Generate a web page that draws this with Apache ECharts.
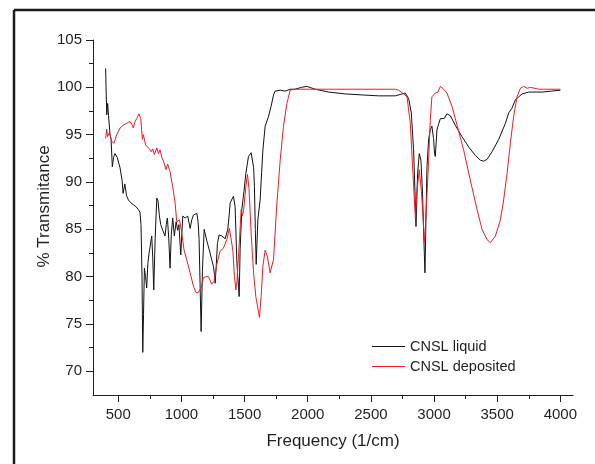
<!DOCTYPE html>
<html>
<head>
<meta charset="utf-8">
<script src="https://cdn.jsdelivr.net/npm/echarts@6/dist/echarts.min.js"></script>
<style>
html, body { margin: 0; padding: 0; background: #fff; }
#main { width: 595px; height: 464px; }
</style>
</head>
<body>
<div id="main"></div>
<script>
// IR spectra, [wavenumber, %T]
var liquid = [
    [400, 102.0], [404, 99.5], [409, 97.1], [416, 98.3], [423, 97.0], [435, 95.0], [443, 94.5], [453, 91.6],
    [463, 92.6], [474, 93.0], [492, 92.6], [514, 91.5], [530, 90.2], [538, 88.8], [552, 89.8], [565, 88.6],
    [580, 88.1], [600, 87.8], [619, 87.6], [640, 87.4], [659, 87.1], [672, 86.8], [680, 85.5], [688, 80.0],
    [694, 72.0], [700, 76.0], [707, 80.9], [716, 80.0], [725, 78.8], [735, 81.5], [744, 82.5], [752, 82.3],
    [765, 84.3], [773, 82.0], [781, 78.6], [792, 84.0], [805, 88.3], [815, 88.0], [825, 86.5], [836, 85.5],
    [852, 84.9], [870, 84.3], [880, 85.5], [889, 86.2], [900, 84.0], [910, 80.9], [920, 84.5], [931, 86.2],
    [944, 84.3], [958, 85.8], [970, 84.9], [980, 85.5], [995, 82.3], [1003, 84.5], [1011, 86.4], [1030, 86.2],
    [1050, 86.4], [1069, 85.1], [1082, 86.0], [1095, 86.5], [1110, 86.6], [1122, 86.7], [1132, 85.8], [1140, 83.9],
    [1148, 79.0], [1156, 74.2], [1166, 80.5], [1180, 85.0], [1201, 83.8], [1227, 82.5], [1253, 81.1], [1262, 80.2],
    [1267, 79.3], [1275, 81.0], [1285, 83.5], [1298, 84.4], [1320, 84.3], [1346, 84.0], [1367, 85.0], [1378, 86.5],
    [1386, 87.8], [1400, 88.0], [1412, 88.5], [1425, 87.4], [1432, 84.5], [1438, 81.8], [1446, 80.0], [1452, 79.0],
    [1457, 77.9], [1465, 83.0], [1478, 87.1], [1495, 89.0], [1510, 90.9], [1531, 92.7], [1552, 93.1], [1565, 92.9],
    [1572, 91.5], [1578, 89.5], [1585, 85.0], [1592, 81.3], [1598, 83.5], [1605, 86.0], [1623, 88.1], [1635, 91.0],
    [1645, 93.4], [1663, 95.9], [1689, 96.9], [1710, 98.0], [1729, 99.2], [1742, 99.6], [1782, 99.7], [1821, 99.6],
    [1861, 99.8], [1900, 99.8], [1950, 100.0], [1993, 100.1], [2059, 99.8], [2165, 99.5], [2300, 99.3], [2429, 99.2],
    [2560, 99.1], [2693, 99.1], [2746, 99.3], [2772, 99.4], [2799, 98.8], [2820, 97.3], [2838, 93.4], [2849, 89.0],
    [2857, 85.3], [2864, 88.5], [2870, 90.9], [2883, 93.0], [2896, 92.3], [2909, 88.8], [2918, 84.5], [2928, 80.4],
    [2936, 86.0], [2944, 91.6], [2957, 94.5], [2970, 95.5], [2983, 95.9], [2996, 94.6], [3004, 93.0], [3010, 92.7],
    [3016, 94.0], [3023, 95.5], [3036, 96.1], [3050, 96.7], [3063, 96.8], [3080, 96.7], [3102, 97.2], [3129, 97.0],
    [3168, 96.0], [3221, 94.8], [3274, 93.7], [3327, 92.8], [3367, 92.3], [3393, 92.2], [3420, 92.4], [3459, 93.2],
    [3512, 94.5], [3565, 96.2], [3591, 97.3], [3617, 97.8], [3644, 98.7], [3697, 99.3], [3750, 99.5], [3855, 99.5],
    [3930, 99.6], [4000, 99.7]
];

var deposited = [
    [400, 94.6], [408, 95.6], [415, 94.8], [430, 95.2], [448, 94.3], [466, 94.1], [488, 95.0], [514, 95.7],
    [540, 96.0], [567, 96.2], [593, 96.4], [612, 96.0], [619, 95.7], [630, 96.3], [646, 96.7], [664, 97.2],
    [678, 96.7], [691, 94.5], [698, 95.0], [705, 94.8], [717, 93.9], [730, 93.7], [746, 93.5], [760, 93.2],
    [773, 93.5], [786, 92.9], [805, 93.6], [818, 93.0], [831, 93.4], [845, 92.6], [863, 92.0], [878, 91.3],
    [891, 91.9], [910, 91.1], [931, 89.5], [950, 87.8], [963, 85.8], [976, 85.7], [985, 86.0], [1003, 84.6],
    [1021, 82.8], [1042, 81.8], [1069, 80.4], [1095, 79.0], [1116, 78.3], [1132, 78.3], [1156, 78.8], [1174, 79.9],
    [1195, 80.0], [1214, 80.0], [1240, 79.2], [1258, 79.5], [1280, 81.3], [1306, 82.7], [1332, 83.0], [1359, 83.9],
    [1380, 85.1], [1394, 85.3], [1407, 82.8], [1420, 80.0], [1431, 78.6], [1440, 79.6], [1446, 79.8], [1460, 84.0],
    [1473, 87.1], [1483, 86.4], [1493, 87.1], [1510, 89.5], [1523, 90.8], [1535, 89.3], [1552, 84.6], [1571, 80.4],
    [1589, 77.9], [1605, 76.7], [1618, 75.7], [1631, 77.9], [1645, 81.1], [1663, 82.8], [1681, 82.1], [1702, 80.4],
    [1715, 80.2], [1729, 81.8], [1756, 87.8], [1782, 92.3], [1808, 95.9], [1835, 98.3], [1861, 99.7], [1900, 99.8],
    [2165, 99.8], [2429, 99.8], [2693, 99.8], [2720, 99.7], [2751, 99.4], [2786, 99.0], [2812, 96.2], [2830, 91.6],
    [2852, 86.2], [2868, 89.5], [2883, 91.3], [2900, 89.0], [2925, 83.6], [2940, 87.5], [2957, 92.3], [2970, 96.5],
    [2983, 99.0], [3010, 99.4], [3030, 99.5], [3050, 100.1], [3076, 99.8], [3102, 99.4], [3142, 98.0], [3182, 96.0],
    [3234, 93.4], [3287, 90.2], [3340, 87.1], [3380, 85.0], [3420, 83.9], [3446, 83.6], [3486, 84.3], [3525, 86.0],
    [3551, 88.1], [3578, 90.9], [3604, 94.1], [3630, 96.9], [3657, 99.0], [3684, 99.9], [3710, 100.1], [3737, 99.9],
    [3763, 100.0], [3830, 99.8], [4000, 99.8]
];

var xMajor = [500, 1000, 1500, 2000, 2500, 3000, 3500, 4000];
var xMinor = [750, 1250, 1750, 2250, 2750, 3250, 3750];
var yMajor = [70, 75, 80, 85, 90, 95, 100, 105];
var yMinor = [72.5, 77.5, 82.5, 87.5, 92.5, 97.5, 102.5];

var font = 'Liberation Sans, Arial, Helvetica, sans-serif';
var ink = '#231f20';

var chart = echarts.init(document.getElementById('main'));

function plain(v) {
    return String(v);
}

function xAx(ticks, len, labels) {
    return {
        type: 'value', position: 'bottom', min: 300, max: 4100,
        axisLine: { show: labels, lineStyle: { color: ink, width: 1 } },
        axisTick: { show: true, customValues: ticks, length: len, lineStyle: { color: ink } },
        axisLabel: { show: labels, customValues: ticks, formatter: plain, color: ink, fontSize: 15, fontFamily: font, margin: 12 },
        splitLine: { show: false },
        name: labels ? 'Frequency (1/cm)' : '',
        nameLocation: 'middle', nameGap: 38, nameMoveOverlap: false,
        nameTextStyle: { color: ink, fontSize: 17, fontFamily: font }
    };
}

function yAx(ticks, len, labels) {
    return {
        type: 'value', position: 'left', min: 67.5, max: 105,
        axisLine: { show: labels, lineStyle: { color: ink, width: 1 } },
        axisTick: { show: true, customValues: ticks, length: len, lineStyle: { color: ink } },
        axisLabel: { show: labels, customValues: ticks, formatter: plain, color: ink, fontSize: 15, fontFamily: font, margin: 11 },
        splitLine: { show: false },
        name: labels ? '% Transmitance' : '',
        nameLocation: 'middle', nameGap: 40, nameRotate: 90, nameMoveOverlap: false,
        nameTextStyle: { color: ink, fontSize: 17, fontFamily: font, padding: [0, 0, 0, 22] }
    };
}

var option = {
    animation: false,
    backgroundColor: '#fff',
    grid: { left: 93, top: 40, right: 22, bottom: 69 },
    xAxis: [xAx(xMajor, 7, true), xAx(xMinor, 4, false)],
    yAxis: [yAx(yMajor, 7, true), yAx(yMinor, 4, false)],
    legend: {
        orient: 'vertical', left: 372, top: 339, padding: 0, itemGap: 5,
        itemWidth: 33, itemHeight: 1, icon: 'rect', itemTextGap: 5,
        textStyle: { color: ink, fontSize: 14.5, fontFamily: font },
        data: ['CNSL liquid', 'CNSL deposited']
    },
    graphic: [
        { type: 'line', shape: { x1: 14, y1: 10, x2: 595, y2: 10 }, style: { stroke: '#1a1a1a', lineWidth: 2.5 } },
        { type: 'line', shape: { x1: 14, y1: 10, x2: 14, y2: 464 }, style: { stroke: '#1a1a1a', lineWidth: 2.5 } }
    ],
    series: [
        {
            name: 'CNSL liquid', type: 'line', data: liquid, showSymbol: false, symbol: 'none',
            lineStyle: { color: '#111', width: 1 }, itemStyle: { color: '#111' }
        },
        {
            name: 'CNSL deposited', type: 'line', data: deposited, showSymbol: false, symbol: 'none',
            lineStyle: { color: '#ee1c25', width: 1 }, itemStyle: { color: '#ee1c25' }
        }
    ]
};

chart.setOption(option);
</script>
</body>
</html>
